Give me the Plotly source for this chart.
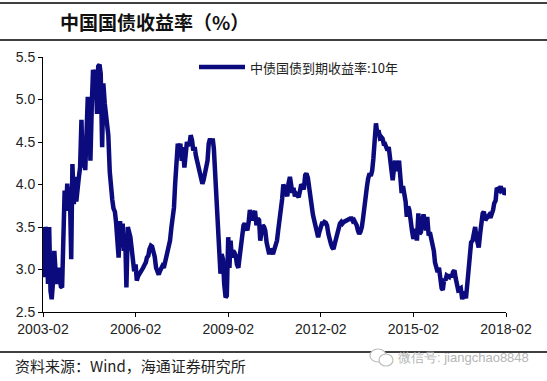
import pandas as pd
import plotly.graph_objects as go

# ---- data: 10Y China government bond yield (%), semi-monthly readings ----
yields_2003 = [3.50,2.91,3.50,3.45,2.83,3.50,2.75,2.65,2.87,3.22,2.95,2.83,3.02,2.85,2.80,2.79,3.54,3.93,3.69,4.01,3.73,3.97,3.12,4.24]
yields_2004 = [3.77,4.09,3.80,4.00,4.09,4.20,4.76,4.20,4.44,4.17,4.60,5.03,4.95,4.28,4.95,5.35,5.19,5.35,4.83,5.39,5.41,5.30,4.44,5.19]
yields_2005 = [4.95,4.80,4.66,4.58,4.15,3.95,3.82,3.72,3.68,3.55,3.38,3.14,3.57,3.26,3.54,3.22,3.38,2.79,3.50,3.45,3.38,3.26,3.05,2.98]
yields_2006 = [3.06,2.87,2.92,2.94,2.98,3.00,3.02,3.05,3.08,3.14,3.16,3.24,3.28,3.27,3.22,3.15,3.02,2.96,2.94,2.98,3.02,3.04,3.02,3.08]
yields_2007 = [3.12,3.18,3.26,3.34,3.50,3.62,3.73,4.01,4.28,4.48,4.40,4.48,4.28,4.44,4.20,4.40,4.50,4.46,4.48,4.58,4.52,4.40,4.44,4.34]
yields_2008 = [4.26,4.21,4.17,4.08,4.01,4.05,4.12,4.16,4.28,4.48,4.54,4.48,4.54,4.42,4.05,3.78,3.45,3.20,2.95,3.18,3.12,2.83,2.67,2.69]
yields_2009 = [3.38,3.02,3.34,3.14,3.22,3.20,3.16,3.06,3.02,3.14,3.32,3.46,3.52,3.54,3.48,3.46,3.56,3.70,3.62,3.58,3.65,3.69,3.52,3.60]
yields_2010 = [3.58,3.34,3.44,3.52,3.50,3.46,3.32,3.22,3.18,3.24,3.22,3.18,3.24,3.28,3.34,3.46,3.56,3.68,3.83,4.00,3.95,3.90,3.86,4.01]
yields_2011 = [4.09,4.00,3.90,3.96,3.86,3.89,3.87,3.85,3.93,4.00,3.98,3.94,4.11,4.13,4.08,4.00,3.89,3.76,3.64,3.58,3.50,3.42,3.38,3.44]
yields_2012 = [3.53,3.54,3.54,3.56,3.55,3.52,3.42,3.34,3.30,3.26,3.24,3.30,3.38,3.44,3.50,3.54,3.56,3.54,3.56,3.57,3.58,3.59,3.59,3.60]
yields_2013 = [3.60,3.57,3.58,3.56,3.52,3.46,3.42,3.44,3.50,3.60,3.76,3.88,3.98,4.07,4.13,4.10,4.16,4.30,4.48,4.72,4.60,4.64,4.55,4.56]
yields_2014 = [4.54,4.48,4.48,4.44,4.40,4.44,4.26,4.10,4.05,4.18,4.28,4.16,4.20,4.28,4.13,3.90,3.98,3.92,3.80,3.62,3.74,3.70,3.52,3.46]
yields_2015 = [3.36,3.44,3.48,3.34,3.66,3.42,3.44,3.54,3.65,3.56,3.46,3.62,3.40,3.44,3.36,3.28,3.22,3.08,3.00,2.97,3.02,2.88,2.78,2.76]
yields_2016 = [2.89,2.87,2.93,2.92,2.91,2.94,2.91,2.97,2.99,2.90,2.83,2.76,2.77,2.78,2.65,2.72,2.72,2.66,2.84,3.04,3.26,3.32,3.34,3.46]
yields_2017 = [3.50,3.38,3.30,3.26,3.42,3.56,3.66,3.68,3.58,3.60,3.64,3.64,3.61,3.64,3.70,3.78,3.81,3.96,3.94,3.93,3.98,3.90,3.96,3.88,3.92]

yields = (yields_2003 + yields_2004 + yields_2005 + yields_2006 + yields_2007 +
          yields_2008 + yields_2009 + yields_2010 + yields_2011 + yields_2012 +
          yields_2013 + yields_2014 + yields_2015 + yields_2016 + yields_2017)
dates = pd.date_range("2003-02-01", "2018-02-01", freq="SMS")
dates = dates[:len(yields)]

tick_dates = ["2003-02-01", "2006-02-01", "2009-02-01", "2012-02-01", "2015-02-01", "2018-02-01"]
tick_labels = ["2003-02", "2006-02", "2009-02", "2012-02", "2015-02", "2018-02"]
y_ticks = [2.5, 3.0, 3.5, 4.0, 4.5, 5.0, 5.5]

title_text = "中国国债收益率（%）"
series_name = "中债国债到期收益率:10年"
source_text = "资料来源：Wind，海通证券研究所"
watermark_text = "微信号: jiangchao8848"

LINE_COLOR = "#0b0b7e"
CJK = "Noto Sans CJK SC"
LAT = "Liberation Sans, Arial"

fig = go.Figure()
fig.add_trace(go.Scatter(
    x=dates, y=yields, mode="lines", name=series_name,
    line=dict(color=LINE_COLOR, width=4.5), showlegend=False,
))

W, H = 547, 381
L, R, T, B = 43, 506, 57, 312

def px(x):
    return (x - L) / (R - L)

def py(y):
    return (B - y) / (B - T)

fig.update_layout(
    width=W, height=H,
    margin=dict(l=L, r=W - R, t=T, b=H - B),
    paper_bgcolor="white", plot_bgcolor="white",
    font=dict(family=LAT, size=14, color="#222222"),
    xaxis=dict(
        type="date", range=["2003-02-01", "2018-02-01"],
        tickvals=tick_dates, ticktext=tick_labels,
        showgrid=False, zeroline=False,
        showline=True, linecolor="black", linewidth=1,
        ticks="outside", ticklen=4, tickcolor="black",
        tickfont=dict(family=LAT, size=14, color="#222222"),
    ),
    yaxis=dict(
        range=[2.5, 5.5], tickvals=y_ticks, tickformat=".1f",
        showgrid=False, zeroline=False,
        showline=True, linecolor="black", linewidth=1,
        ticks="outside", ticklen=4, tickcolor="black",
        tickfont=dict(family=LAT, size=14, color="#222222"),
    ),
)

shapes = [
    dict(type="line", xref="paper", yref="paper", x0=px(0), x1=px(W), y0=py(3), y1=py(3),
         line=dict(color="black", width=1.5)),
    dict(type="line", xref="paper", yref="paper", x0=px(0), x1=px(W), y0=py(40), y1=py(40),
         line=dict(color="black", width=1.5)),
    dict(type="line", xref="paper", yref="paper", x0=px(0), x1=px(W), y0=py(352), y1=py(352),
         line=dict(color="black", width=1.5)),
    dict(type="line", xref="paper", yref="paper", x0=px(199), x1=px(245), y0=py(67), y1=py(67),
         line=dict(color=LINE_COLOR, width=4.5)),
    # watermark icon (two speech bubbles)
    dict(type="circle", xref="paper", yref="paper", x0=px(370), x1=px(386), y0=py(362), y1=py(349),
         line=dict(color="#bdbdbd", width=1.2), fillcolor="white"),
    dict(type="circle", xref="paper", yref="paper", x0=px(379), x1=px(393), y0=py(366), y1=py(354),
         line=dict(color="#bdbdbd", width=1.2), fillcolor="white"),
]
fig.update_layout(shapes=shapes)

annotations = [
    dict(text=title_text, xref="paper", yref="paper", x=px(154), y=py(21),
         xanchor="center", yanchor="middle", showarrow=False,
         font=dict(family=CJK, size=19, color="#111111", weight="bold")),
    dict(text=series_name, xref="paper", yref="paper", x=px(248), y=py(67),
         xanchor="left", yanchor="middle", showarrow=False,
         font=dict(family=CJK, size=13, color="#222222")),
    dict(text=source_text, xref="paper", yref="paper", x=px(13), y=py(365),
         xanchor="left", yanchor="middle", showarrow=False,
         font=dict(family=CJK, size=15, color="#222222")),
    dict(text=watermark_text, xref="paper", yref="paper", x=px(396), y=py(357),
         xanchor="left", yanchor="middle", showarrow=False,
         font=dict(family=LAT, size=13, color="#b5b5b5")),
]
fig.update_layout(annotations=annotations)

fig.write_html("out.html",
               config={"displayModeBar": False},
               post_script="document.body.style.margin='0';document.body.style.padding='0';document.body.style.overflow='hidden';")
